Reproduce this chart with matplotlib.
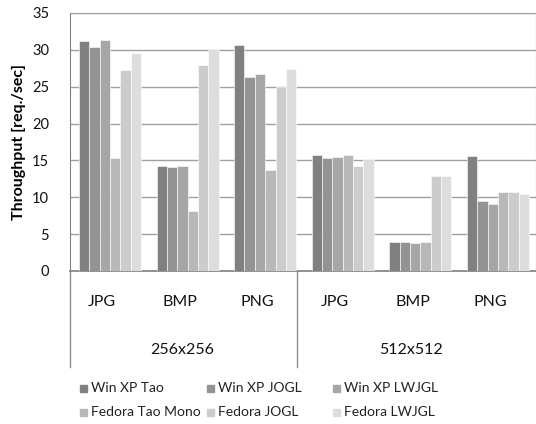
import numpy as np
import matplotlib
matplotlib.use("Agg")
import matplotlib.pyplot as plt
from matplotlib.patches import Rectangle

plt.rcParams['font.family'] = ['Lato', 'DejaVu Sans']

formats = ["JPG", "BMP", "PNG", "JPG", "BMP", "PNG"]
sizes = ["256x256", "512x512"]
series = ["Win XP Tao", "Win XP JOGL", "Win XP LWJGL",
          "Fedora Tao Mono", "Fedora JOGL", "Fedora LWJGL"]
colors = ["#808080", "#939393", "#a6a6a6", "#b8b8b8", "#cccccc", "#dddddd"]

win_tao = [31.2, 14.3, 30.7, 15.7, 4.0, 15.6]
win_jogl = [30.4, 14.1, 26.3, 15.3, 3.9, 9.5]
win_lwjgl = [31.4, 14.3, 26.7, 15.4, 3.8, 9.1]
fed_tao = [15.3, 8.2, 13.7, 15.7, 4.0, 10.7]
fed_jogl = [27.2, 28.0, 24.9, 14.2, 12.9, 10.7]
fed_lwjgl = [29.6, 30.0, 27.4, 15.2, 12.9, 10.4]
values = [win_tao, win_jogl, win_lwjgl, fed_tao, fed_jogl, fed_lwjgl]

fig = plt.figure(figsize=(5.36, 4.24), dpi=100)
ax = fig.add_axes([70 / 536, 1 - 271 / 424, 466 / 536, 258 / 424])

x = np.arange(len(formats))
w = 0.8 / len(series)
for k, (vals, c) in enumerate(zip(values, colors)):
    ax.bar(x - 0.4 + w * (k + 0.5), vals, width=w, color=c,
           edgecolor="white", linewidth=0.4, zorder=3)

ax.set_xlim(-0.515, 5.49)
ax.set_ylim(0, 35)
ax.set_yticks(range(0, 36, 5))
ax.tick_params(axis="y", length=0, labelsize=10.5, pad=15, colors="#111111")
ax.set_xticks([])
ax.grid(axis="y", color="#a0a0a0", linewidth=1, zorder=0)
for s in ["top", "right"]:
    ax.spines[s].set_color("#a0a0a0")
ax.spines["left"].set_color("#808080")
ax.spines["bottom"].set_color("#808080")
ax.spines["bottom"].set_linewidth(1.2)
ax.set_ylabel("Throughput [req./sec]", fontsize=11.5, fontweight="bold", labelpad=4)

# category labels below the axis
tr = ax.get_xaxis_transform()
for i, f in enumerate(formats):
    ax.text(i - 0.1, -31 / 258, f, transform=tr, ha="center", va="center",
            fontsize=11.5, color="#111111")
for xc, s in zip([0.934, 3.876], sizes):
    ax.text(xc, -79 / 258, s, transform=tr, ha="center", va="center",
            fontsize=11.5, color="#111111")
for xs in [-0.515, 2.41]:
    ax.plot([xs, xs], [0, -96 / 258], transform=tr, color="#909090",
            linewidth=1, clip_on=False)

# legend, row-major in three columns
col_x = [80, 207, 333]
row_y = [388, 412]
for k, (name, c) in enumerate(zip(series, colors)):
    px = col_x[k % 3]
    py = row_y[k // 3]
    fig.patches.append(Rectangle((px / 536, 1 - (py + 3.5) / 424), 7 / 536, 7 / 424,
                                 transform=fig.transFigure, color=c))
    fig.text((px + 11) / 536, 1 - py / 424, name, ha="left", va="center",
             fontsize=10, color="#222222")

fig.savefig("out.png", dpi=100)
